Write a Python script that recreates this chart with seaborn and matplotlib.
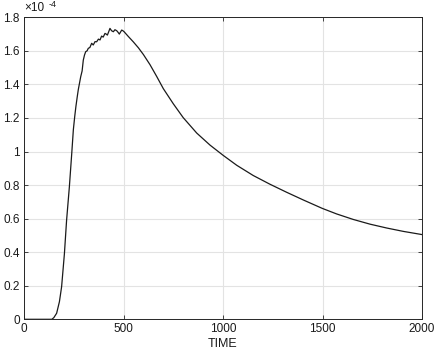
import matplotlib
matplotlib.use("Agg")
import matplotlib.pyplot as plt
import seaborn as sns
import pandas as pd

# values in units of 1e-4
time = [0, 140, 150, 164, 178, 189, 203, 214, 228, 240, 248, 255, 261, 268, 273, 285,
        292, 298, 304, 310, 317, 323, 331, 340, 348, 357, 365, 374, 382, 390, 398, 407,
        413, 419, 426, 432, 440, 449, 457, 466, 473, 479, 485, 491, 497, 503, 524, 549,
        575, 600, 633, 667, 700, 750, 800, 868, 935, 1001, 1069, 1152, 1236, 1320, 1404,
        1499, 1571, 1655, 1739, 1823, 1906, 2000]
value = [0, 0, 0.01, 0.036, 0.105, 0.194, 0.39, 0.59, 0.79, 0.99, 1.13, 1.21, 1.27, 1.33,
         1.37, 1.446, 1.48, 1.545, 1.575, 1.595, 1.60, 1.615, 1.62, 1.645, 1.635, 1.655,
         1.654, 1.67, 1.665, 1.688, 1.682, 1.704, 1.70, 1.694, 1.715, 1.734, 1.72, 1.714,
         1.726, 1.72, 1.71, 1.70, 1.712, 1.724, 1.72, 1.714, 1.686, 1.654,
         1.618, 1.578, 1.518, 1.447, 1.375, 1.285, 1.202, 1.11, 1.038, 0.977, 0.918, 0.857,
         0.805, 0.757, 0.711, 0.661, 0.628, 0.595, 0.567, 0.544, 0.524, 0.505]

xticks = [0, 500, 1000, 1500, 2000]
yticks = [0, 0.2, 0.4, 0.6, 0.8, 1.0, 1.2, 1.4, 1.6, 1.8]
ytick_labels = ["0", "0.2", "0.4", "0.6", "0.8", "1", "1.2", "1.4", "1.6", "1.8"]

df = pd.DataFrame({"TIME": time, "value": value})

sns.set_style("white")
plt.rcParams["font.family"] = ["Liberation Sans", "DejaVu Sans"]

fig = plt.figure(figsize=(4.36, 3.54), dpi=100)
ax = fig.add_axes([24 / 436, (354 - 319.3) / 354, 398 / 436, (319.3 - 17.3) / 354])

sns.lineplot(data=df, x="TIME", y="value", ax=ax, color="#1a1a1a", linewidth=0.9)

ax.set_xlim(0, 2000)
ax.set_ylim(0, 1.8)
ax.set_xticks(xticks)
ax.set_xticklabels([str(t) for t in xticks])
ax.set_yticks(yticks)
ax.set_yticklabels(ytick_labels)
ax.grid(True, color="#e3e3e3", linewidth=0.8)
ax.set_axisbelow(True)
for s in ax.spines.values():
    s.set_visible(True)
    s.set_color("#262626")
    s.set_linewidth(0.7)
ax.tick_params(direction="in", length=3, width=0.6, color="#262626",
               labelsize=8.5, labelcolor="#1a1a1a", top=True, right=True,
               bottom=True, left=True, pad=3)
ax.set_xlabel("TIME", fontsize=9, color="#1a1a1a", labelpad=2)
ax.set_ylabel("")

ax.text(0.0, 1.012, "\u00d710", transform=ax.transAxes, fontsize=8.5,
        color="#1a1a1a", ha="left", va="bottom")
ax.text(0.061, 1.028, "-4", transform=ax.transAxes, fontsize=6.5,
        color="#1a1a1a", ha="left", va="bottom")

fig.savefig("out.png", dpi=100)
